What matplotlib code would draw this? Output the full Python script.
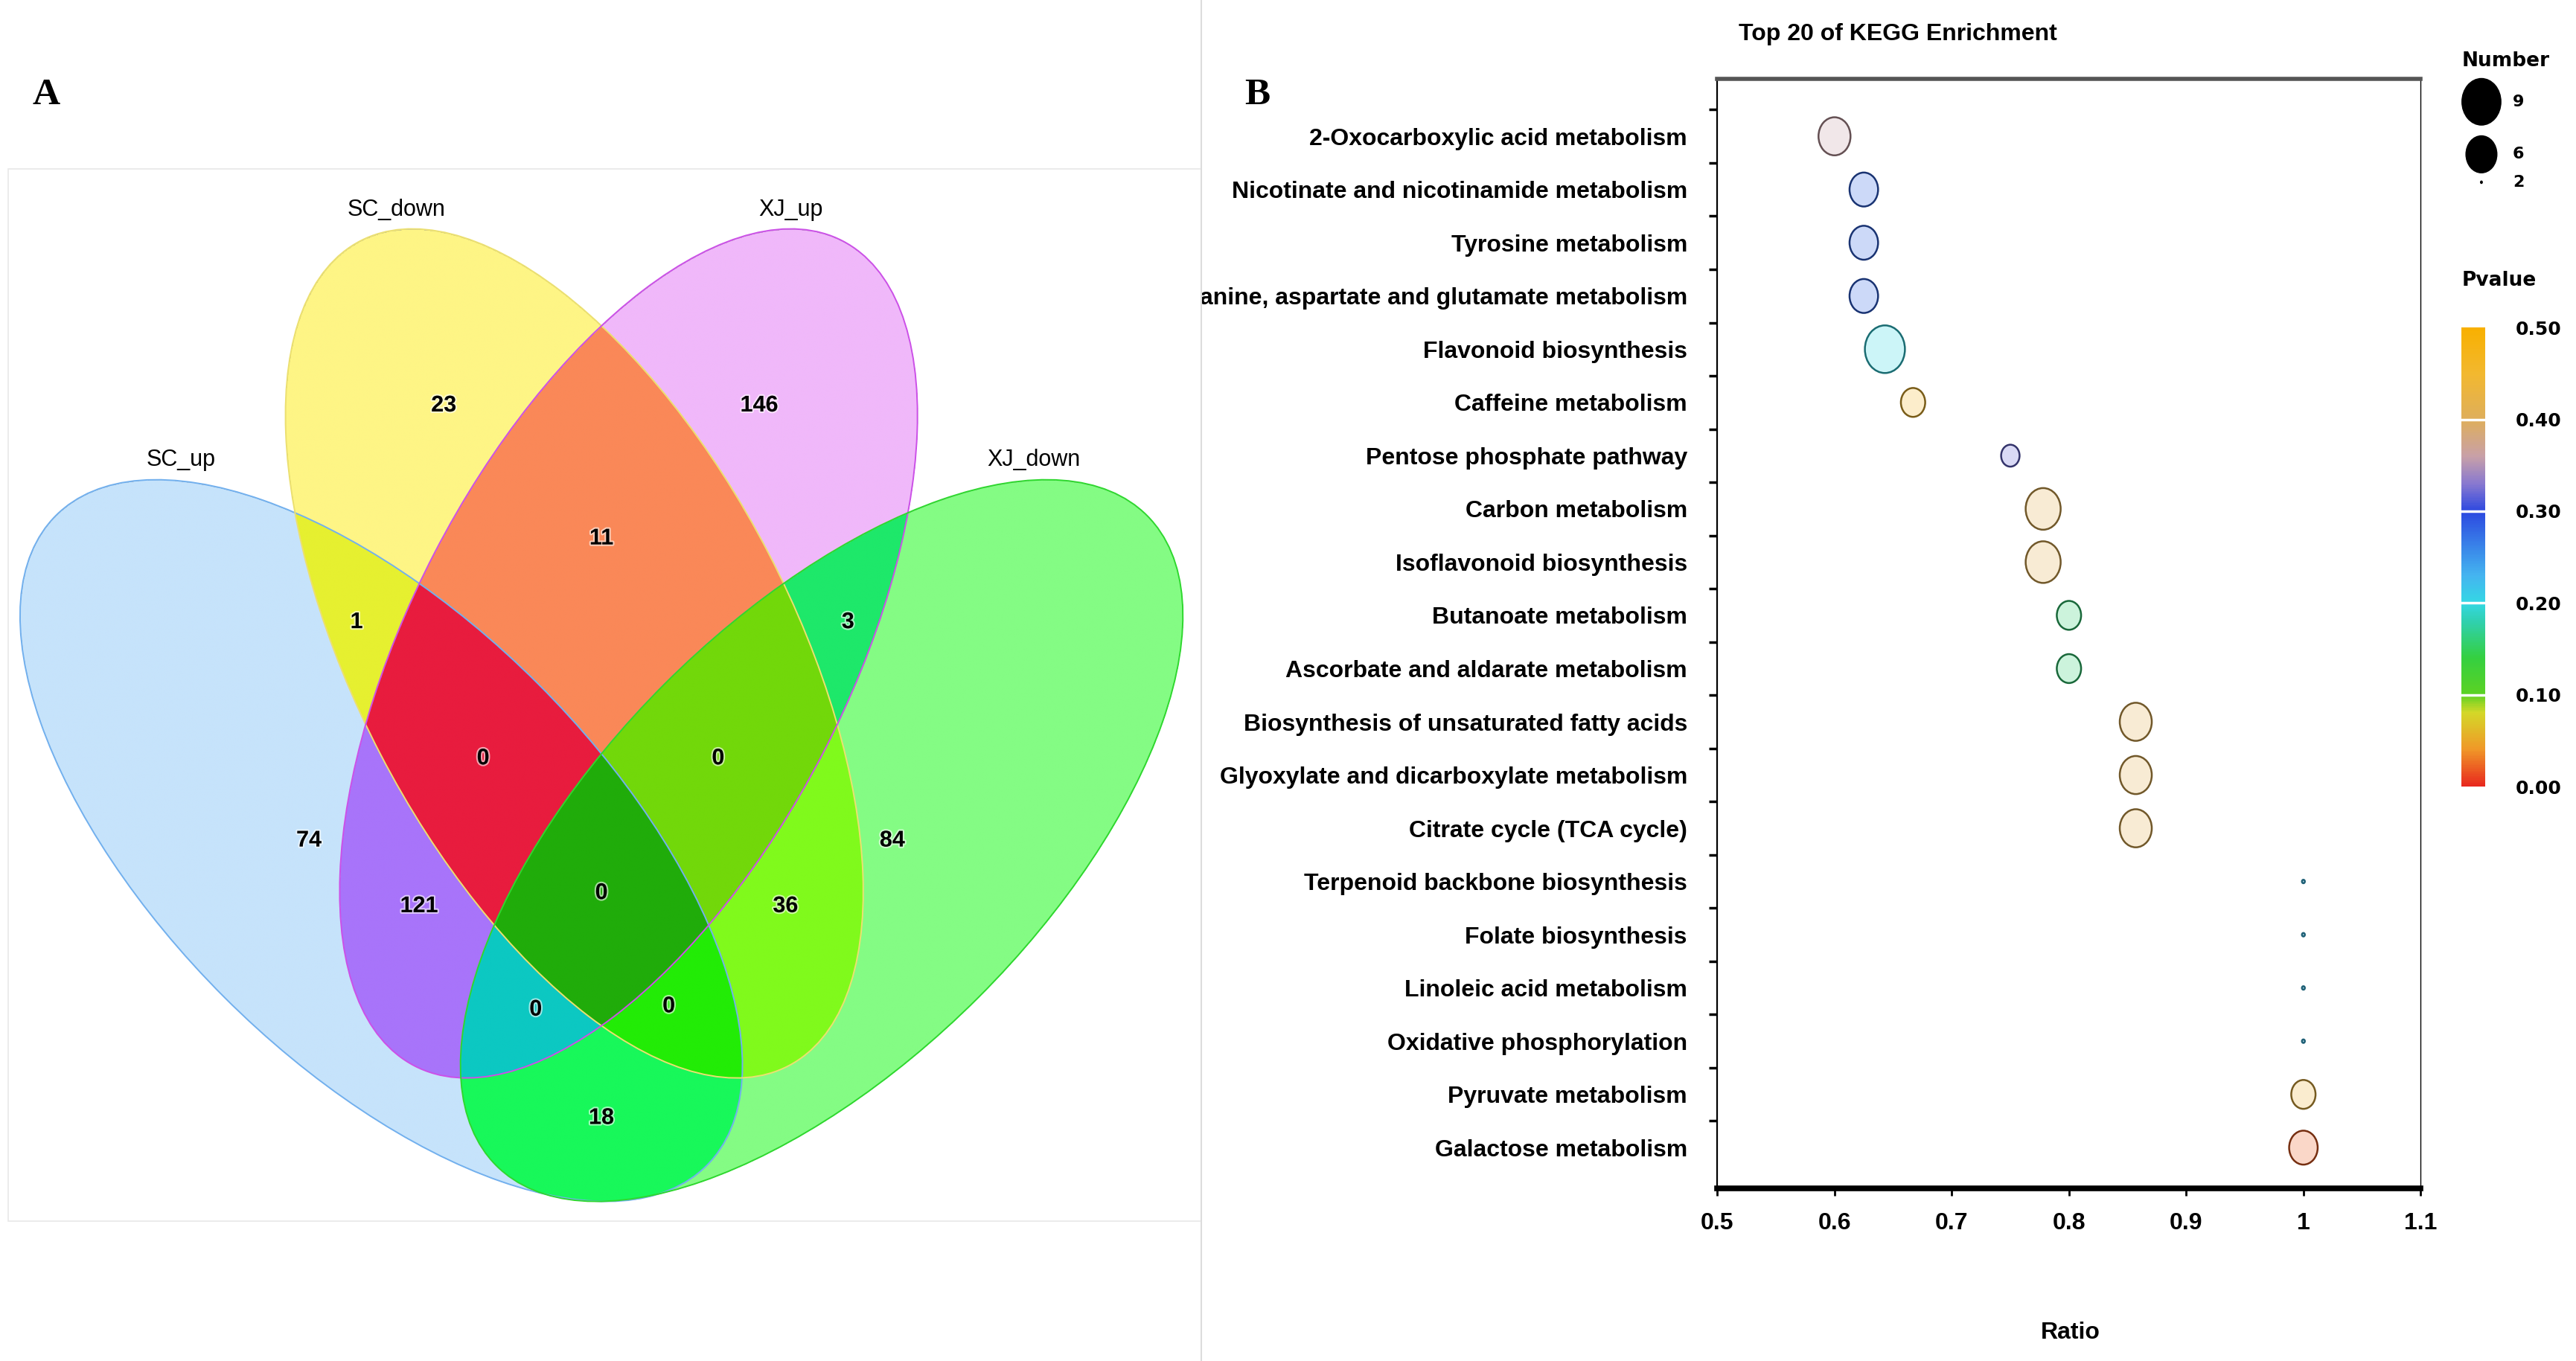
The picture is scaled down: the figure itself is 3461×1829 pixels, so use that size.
import numpy as np
import matplotlib.pyplot as plt
import matplotlib.patheffects as pe
from matplotlib.patches import Ellipse, Rectangle
from matplotlib.colors import LinearSegmentedColormap, Normalize, to_rgb
from matplotlib.markers import MarkerStyle
from matplotlib.path import Path
from matplotlib.transforms import Affine2D
from matplotlib.cm import ScalarMappable

plt.rcParams['font.family'] = ['Liberation Sans', 'DejaVu Sans']

# ---- panel A: 4-set venn (membership order SC_up, SC_down, XJ_up, XJ_down)
set_names = ["SC_up", "SC_down", "XJ_up", "XJ_down"]
region_keys = ["1000", "0100", "0010", "0001", "1100", "0110", "0011", "1001",
               "1010", "0101", "1110", "0111", "1011", "1101", "1111"]
region_counts = [74, 23, 146, 84, 1, 11, 3, 18, 121, 36, 0, 0, 0, 0, 0]

# ---- panel B: top 20 KEGG enrichment
pathways = [
    "2-Oxocarboxylic acid metabolism", "Nicotinate and nicotinamide metabolism",
    "Tyrosine metabolism", "Alanine, aspartate and glutamate metabolism",
    "Flavonoid biosynthesis", "Caffeine metabolism", "Pentose phosphate pathway",
    "Carbon metabolism", "Isoflavonoid biosynthesis", "Butanoate metabolism",
    "Ascorbate and aldarate metabolism", "Biosynthesis of unsaturated fatty acids",
    "Glyoxylate and dicarboxylate metabolism", "Citrate cycle (TCA cycle)",
    "Terpenoid backbone biosynthesis", "Folate biosynthesis",
    "Linoleic acid metabolism", "Oxidative phosphorylation",
    "Pyruvate metabolism", "Galactose metabolism",
]
ratio = [0.600, 0.625, 0.625, 0.625, 0.643, 0.667, 0.750, 0.778, 0.778, 0.800,
         0.800, 0.857, 0.857, 0.857, 1.0, 1.0, 1.0, 1.0, 1.0, 1.0]
gene_number = [6, 5, 5, 5, 9, 4, 3, 7, 7, 4, 4, 6, 6, 6, 2, 2, 2, 2, 4, 5]
pvalue = [0.36, 0.28, 0.28, 0.28, 0.20, 0.45, 0.32, 0.41, 0.41, 0.16,
          0.16, 0.41, 0.41, 0.41, 0.22, 0.22, 0.22, 0.22, 0.43, 0.02]
number_legend = [9, 6, 2]
pvalue_ticks = [0.0, 0.1, 0.2, 0.3, 0.4, 0.5]
ratio_ticks = [0.5, 0.6, 0.7, 0.8, 0.9, 1.0, 1.1]
ratio_ticklabels = ["0.5", "0.6", "0.7", "0.8", "0.9", "1", "1.1"]

# styling
region_colors = ["#c6e3fb", "#fef585", "#f0b8fa", "#84fc84", "#e6f030", "#fa8858",
                 "#1ee86a", "#18f85a", "#a874fa", "#80fa1c", "#e81c3e", "#72d80a",
                 "#0cc8c2", "#22ec06", "#20ac0a"]
set_edges = ["#72b0ee", "#ece070", "#cc50e8", "#2ed82e"]
# cx, cy, semi-major, semi-minor, angle  (layout units, y down)
ellipses = [(232.0, 512.0, 280.0, 135.0, 45.0),
            (349.5, 398.0, 283.0, 133.0, 62.6),
            (382.5, 398.0, 283.0, 133.0, -62.6),
            (500.0, 512.0, 280.0, 135.0, -45.0)]
count_pos = [(188, 512), (270, 247), (462, 247), (543, 512), (217, 379), (366, 328),
             (516, 379), (366, 681), (255, 552), (478, 552), (294, 462), (437, 462),
             (326, 615), (407, 613), (366, 544)]
name_pos = [(110, 280), (241, 128), (481, 128), (629, 280)]

W, H = 1568, 829  # layout units
fig = plt.figure(figsize=(34.62, 18.29), dpi=100)


def fx(x):
    return x / W


def fy(y):
    return 1 - y / H


# ================= panel A
axv = fig.add_axes([0, 0, 731 / W, 1])
axv.set_zorder(3)
axv.axis('off')
axv.add_patch(Rectangle((0, 0), 731, H, facecolor='white', edgecolor='none', zorder=0))
axv.add_patch(Rectangle((5, 103), 726, 641, facecolor='none', edgecolor='#e8e8e8', lw=1.2, zorder=0.5))

xs = np.arange(0, 731, 0.35)
ys = np.arange(90, 760, 0.35)
X, Y = np.meshgrid(xs, ys)
inside = []
for cx, cy, a, b, ang in ellipses:
    t = np.deg2rad(ang)
    dx, dy = X - cx, Y - cy
    u = dx * np.cos(t) + dy * np.sin(t)
    v = -dx * np.sin(t) + dy * np.cos(t)
    inside.append((u / a) ** 2 + (v / b) ** 2 <= 1)

img = np.zeros(X.shape + (4,))
for key, col in zip(region_keys, region_colors):
    m = np.ones(X.shape, bool)
    for bit, ins in zip(key, inside):
        m &= ins if bit == "1" else ~ins
    img[m] = (*to_rgb(col), 1.0)
axv.imshow(img, extent=(xs[0], xs[-1], ys[-1], ys[0]), origin='upper',
           interpolation='antialiased', aspect='auto', zorder=1)

for (cx, cy, a, b, ang), ec in zip(ellipses, set_edges):
    axv.add_patch(Ellipse((cx, cy), 2 * a, 2 * b, angle=ang, fill=False,
                          edgecolor=ec, lw=1.4, zorder=2))

halo = [pe.withStroke(linewidth=3, foreground='white', alpha=0.6)]
for (x, y), n in zip(count_pos, region_counts):
    axv.text(x, y, str(n), ha='center', va='center', fontsize=22,
             fontweight='bold', zorder=4, path_effects=halo)
for (x, y), name in zip(name_pos, set_names):
    axv.text(x, y, name, ha='center', va='center', fontsize=22, zorder=4)

axv.text(28, 58, "A", ha='center', va='center', fontsize=37, fontweight='bold',
         family='Liberation Serif', zorder=4)
axv.plot([731, 731], [0, H], color='#dcdcdc', lw=1.5, zorder=4, clip_on=False)
axv.set_xlim(0, 731)
axv.set_ylim(H, 0)

# ================= panel B
ax = fig.add_axes([fx(1045), fy(724), (1473 - 1045) / W, (724 - 48) / H])
ypos = np.arange(len(pathways))

cmap = LinearSegmentedColormap.from_list('pv', [
    (0.00, '#e8281e'), (0.08, '#f09828'), (0.16, '#d4d828'), (0.20, '#5cd224'),
    (0.28, '#34d040'), (0.36, '#30d0b0'), (0.40, '#34d8e4'), (0.46, '#44b4f0'),
    (0.60, '#2c48e0'), (0.66, '#8878d0'), (0.72, '#c8a0a8'), (0.80, '#deae5c'),
    (0.90, '#f2b830'), (1.00, '#f8b000')])
norm = Normalize(0, 0.5)
base = cmap(norm(np.array(pvalue)))[:, :3]
fills = 0.25 * base + 0.75
edges = 0.5 * base

oval = MarkerStyle(Path.unit_circle().transformed(Affine2D().scale(1 / 1.19, 1)))


def bubble_size(n):
    return (21.15 * (np.asarray(n, float) - 1.99) ** 0.4) ** 2


ax.scatter(ratio, ypos, s=bubble_size(gene_number), c=fills, edgecolors=edges,
           linewidths=1.8, marker=oval, zorder=3)

ax.set_xlim(0.5, 1.1)
ax.set_ylim(19.77, -1.08)
ax.set_xticks(ratio_ticks)
ax.set_xticklabels(ratio_ticklabels)
ax.set_yticks(ypos)
ax.set_yticklabels(pathways)
ax.set_yticks(ypos - 0.5, minor=True)
ax.tick_params(axis='y', which='major', length=0, pad=29, labelsize=23)
ax.tick_params(axis='y', which='minor', length=8, width=2.5, direction='out')
ax.tick_params(axis='x', which='major', length=7, width=2, pad=16, labelsize=23)
for lab in ax.get_yticklabels() + ax.get_xticklabels():
    lab.set_fontweight('bold')
ax.spines['top'].set_color('#555555')
ax.spines['top'].set_linewidth(4)
ax.spines['bottom'].set_linewidth(5.5)
ax.spines['left'].set_linewidth(1.6)
ax.spines['right'].set_linewidth(1.0)

fig.text(fx(1155), fy(20.8), "Top 20 of KEGG Enrichment", ha='center', va='center',
         fontsize=23, fontweight='bold')
fig.text(fx(1260), fy(812), "Ratio", ha='center', va='center', fontsize=23,
         fontweight='bold')
fig.text(fx(765), fy(58), "B", ha='center', va='center', fontsize=37,
         fontweight='bold', family='Liberation Serif')

# ---- legends
axl = fig.add_axes([0, 0, 1, 1])
axl.set_xlim(0, W)
axl.set_ylim(H, 0)
axl.axis('off')
axl.text(1498, 37, "Number", ha='left', va='center', fontsize=19,
         fontweight='bold', family='DejaVu Sans')
leg_y = [62, 94, 111]
axl.scatter([1510] * 3, leg_y, s=bubble_size(number_legend), c='black',
            marker=oval, linewidths=0)
for y, n in zip(leg_y, number_legend):
    axl.text(1529, y, str(n), ha='left', va='center', fontsize=16,
             fontweight='bold', family='DejaVu Sans')
axl.text(1498, 171, "Pvalue", ha='left', va='center', fontsize=19,
         fontweight='bold', family='DejaVu Sans')

cax = fig.add_axes([fx(1497.6), fy(479.2), (1512.4 - 1497.6) / W, (479.2 - 199.5) / H])
cb = fig.colorbar(ScalarMappable(norm, cmap), cax=cax, ticks=pvalue_ticks)
cb.outline.set_visible(False)
cb.ax.set_yticklabels([f"{t:.2f}" for t in pvalue_ticks])
cb.ax.tick_params(length=0, pad=29, labelsize=18)
for lab in cb.ax.get_yticklabels():
    lab.set_fontfamily('DejaVu Sans')
    lab.set_fontweight('bold')
for t in pvalue_ticks[1:-1]:
    cax.axhline(t, color='white', lw=2.5)

fig.savefig("out.png", dpi=100, facecolor='white')
